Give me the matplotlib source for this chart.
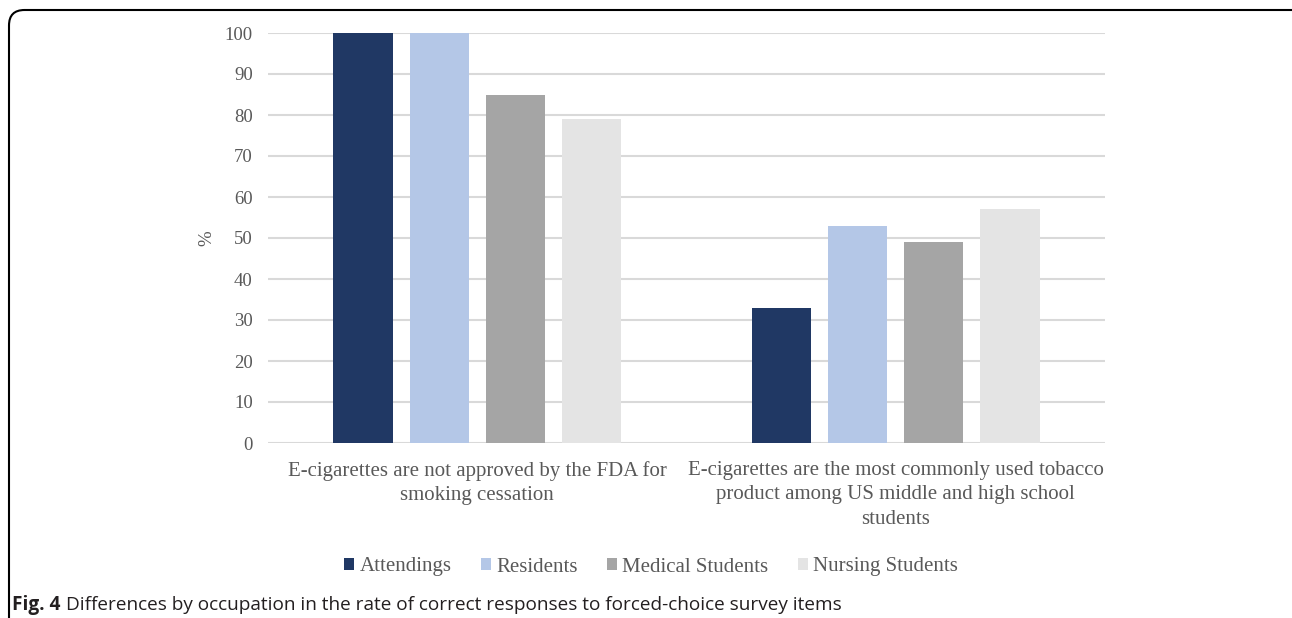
import numpy as np
import matplotlib.pyplot as plt
from matplotlib.patches import FancyBboxPatch

categories = ['E-cigarettes are not approved by the FDA for\nsmoking cessation',
              'E-cigarettes are the most commonly used tobacco\nproduct among US middle and high school\nstudents']
groups = ['Attendings', 'Residents', 'Medical Students', 'Nursing Students']
attendings = [100, 33]
residents = [100, 53]
medical = [85, 49]
nursing = [79, 57]
colors = ['#203864', '#b4c7e7', '#a5a5a5', '#e4e4e4']

W, H = 1292, 618
fig = plt.figure(figsize=(W/100, H/100), dpi=100)
ax = fig.add_axes([268/W, 1-443/H, (1105-268)/W, (443-33)/H])

serif = 'Liberation Serif'
x = np.arange(len(categories))
width = 0.141
step = 0.182
series = [attendings, residents, medical, nursing]
for i, (vals, name) in enumerate(zip(series, groups)):
    ax.bar(x + (i-1.5)*step, vals, width, color=colors[i], label=name, zorder=3)

ax.set_xlim(-0.5, 1.5)
ax.set_ylim(0, 100)
ax.set_yticks(range(0, 101, 10))
ax.yaxis.grid(True, color='#d9d9d9', linewidth=1.5, zorder=0)
for s in ax.spines.values():
    s.set_visible(False)
ax.tick_params(axis='both', length=0)
ax.tick_params(axis='y', pad=11)
ax.set_xticks(x)
ax.set_xticklabels(categories, fontfamily=serif, fontsize=15, color='#595959', linespacing=1.38)
ax.tick_params(axis='x', pad=13)
for t in ax.get_yticklabels():
    t.set_fontfamily(serif)
    t.set_fontsize(13.5)
    t.set_color('#595959')
ax.set_ylabel('%', fontfamily=serif, fontsize=13.5, color='#595959', labelpad=7)

leg = fig.legend(loc='center', bbox_to_anchor=(651/W, 1-567/H), ncol=4, frameon=False,
                 prop={'family': serif, 'size': 15}, handlelength=0.5, handleheight=0.5,
                 handletextpad=0.25, columnspacing=1.4)
for t in leg.get_texts():
    t.set_color('#595959')

cap_y = 1-605/H
t1 = fig.text(12/W, cap_y, 'Fig. 4', fontfamily='Open Sans', fontweight='bold', fontsize=13.7,
              va='center', ha='left', color='#231f20')
fig.canvas.draw()
bb = t1.get_window_extent()
fig.text((bb.x1 + 6)/W, cap_y, 'Differences by occupation in the rate of correct responses to forced-choice survey items',
         fontfamily='Open Sans', fontsize=13.7, va='center', ha='left', color='#231f20')

box = FancyBboxPatch((9/W, -0.05), 1.2, 1-10/H+0.05, boxstyle='round,pad=0,rounding_size=0.012',
                     transform=fig.transFigure, fill=False, edgecolor='black', linewidth=1.5,
                     mutation_aspect=W/H)
fig.patches.append(box)

fig.savefig('out.png', dpi=100)
